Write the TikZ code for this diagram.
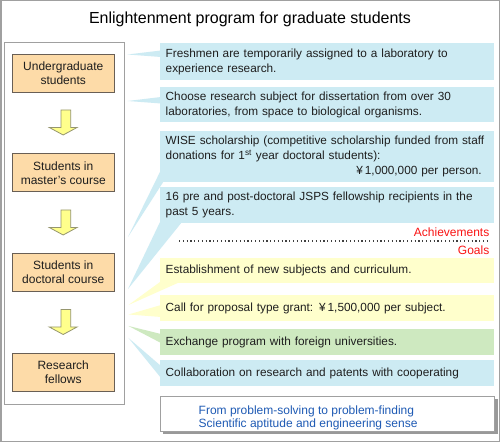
\documentclass[tikz,border=0pt]{standalone}
\usepackage{fontspec}
\setmainfont{Liberation Sans}
\definecolor{cblue}{RGB}{205,235,243}
\definecolor{cyellow}{RGB}{255,255,204}
\definecolor{cgreen}{RGB}{206,233,192}
\definecolor{stagefill}{RGB}{253,219,168}
\definecolor{stageborder}{RGB}{105,95,85}
\definecolor{arrfill}{RGB}{255,255,140}
\definecolor{arrborder}{RGB}{150,150,110}
\definecolor{framegray}{RGB}{160,160,160}
\definecolor{bluetext}{RGB}{30,90,180}
\definecolor{redtext}{RGB}{250,20,20}
\definecolor{bodytext}{RGB}{30,30,30}
\tikzset{
  stage/.style={rectangle, draw=stageborder, line width=0.8pt, fill=stagefill,
    minimum width=101.5pt, minimum height=38pt, align=center, inner sep=0pt,
    text=bodytext, font=\fontsize{12}{14}\selectfont},
  callout/.style={rectangle, anchor=north west, inner xsep=5.5pt, inner ysep=0pt,
    text width=323pt, align=left, text=bodytext, font=\fontsize{11.8}{15}\selectfont},
  downarr/.pic={\filldraw[fill=arrfill, draw=arrborder, line width=0.8pt]
    (-2.2,0) -- (7.5,0) -- (7.5,17.5) -- (13.8,17.5) -- (0,25) -- (-13.9,17.5) -- (-2.2,17.5) -- cycle;},
  redlabel/.style={anchor=base east, text=redtext, inner sep=0pt, font=\fontsize{12}{14}\selectfont}
}
\begin{document}
\begin{tikzpicture}[x=1pt,y=-1pt]
\useasboundingbox (0,0) rectangle (501,443);
\fill[white] (0,0) rectangle (501,443);
\draw[framegray, line width=1.5pt] (0.75,0.75) rectangle (499.6,441.6);
\node[anchor=base, inner sep=0pt, font=\fontsize{16}{19}\selectfont] (title) at (250,24) {Enlightenment program for graduate students};
% left column
\draw[framegray, line width=1pt] (4.5,42.5) rectangle (124.5,404.5);
\node[stage] (ug) at (63.25,73) {Undergraduate\\students};
\node[stage] (ms) at (63.25,172.75) {Students in\\master's course};
\node[stage] (dc) at (63.25,272.5) {Students in\\doctoral course};
\node[stage] (rf) at (63.25,372.5) {Research\\fellows};
\pic at (63.2,110) {downarr};
\pic at (63.2,210) {downarr};
\pic at (63.2,309.5) {downarr};
% pointers
\coordinate (t1) at (127.5,54.5);
\coordinate (t2) at (127.5,101);
\coordinate (t3) at (128,237);
\coordinate (t4) at (128,289);
\coordinate (t5) at (128.5,305);
\coordinate (t6) at (128.5,314.5);
\coordinate (t7) at (128.5,326);
\coordinate (t8) at (128.5,338);
\fill[cblue] (161,50.5) -- (t1) -- (161,57) -- cycle;
\fill[cblue] (161,97) -- (t2) -- (161,103.5) -- cycle;
\fill[cblue] (163.4,165) -- (t3) -- (167.7,175) -- cycle;
\fill[cblue] (160,222) -- (t4) -- (182,222) -- cycle;
\fill[cyellow] (160,282) -- (t5) -- (180,282) -- cycle;
\fill[cyellow] (161,305) -- (t6) -- (161,317) -- cycle;
\fill[cgreen] (161,334) -- (t7) -- (161,343) -- cycle;
\fill[cblue] (161,366) -- (t8) -- (161,378) -- cycle;
% callouts
\node[callout, fill=cblue, minimum height=37pt] (c1) at (160,43) {Freshmen are temporarily assigned to a laboratory to\\experience research.};
\node[callout, fill=cblue, minimum height=35pt] (c2) at (160,87) {Choose research subject for dissertation from over 30\\laboratories, from space to biological organisms.};
\node[callout, fill=cblue, minimum height=51pt] (c3) at (160,131) {WISE scholarship (competitive scholarship funded from staff\\donations for 1\textsuperscript{st} year doctoral students):\\\hspace*{\fill}¥\,1,000,000 per person.\hspace*{7pt}};
\node[callout, fill=cblue, minimum height=36pt] (c4) at (160,187) {16 pre and post-doctoral JSPS fellowship recipients in the\\past 5 years.};
\node[redlabel] (ach) at (489.5,236.5) {Achievements};
\draw[black!75, line width=1.1pt, dash pattern=on 1.2pt off 2.6pt] (179,241) -- (490,241);
\node[redlabel] (goals) at (489.5,254.5) {Goals};
\node[callout, fill=cyellow, minimum height=25pt] (c5) at (160,258) {Establishment of new subjects and curriculum.};
\node[callout, fill=cyellow, minimum height=26pt] (c6) at (160,295) {Call for proposal type grant: ¥\,1,500,000 per subject.};
\node[callout, fill=cgreen, minimum height=26pt] (c7) at (160,329) {Exchange program with foreign universities.};
\node[callout, fill=cblue, minimum height=26pt] (c8) at (160,360) {Collaboration on research and patents with cooperating};
% bottom box
\fill[black!40] (163,399) rectangle (497.5,434.5);
\draw[framegray, fill=white, line width=0.8pt] (160,396) rectangle (494,431);
\node[anchor=west, align=left, inner sep=0pt, text=bluetext, font=\fontsize{12}{13.5}\selectfont] (motto) at (198.5,418) {From problem-solving to problem-finding\\Scientific aptitude and engineering sense};
\end{tikzpicture}
\end{document}
